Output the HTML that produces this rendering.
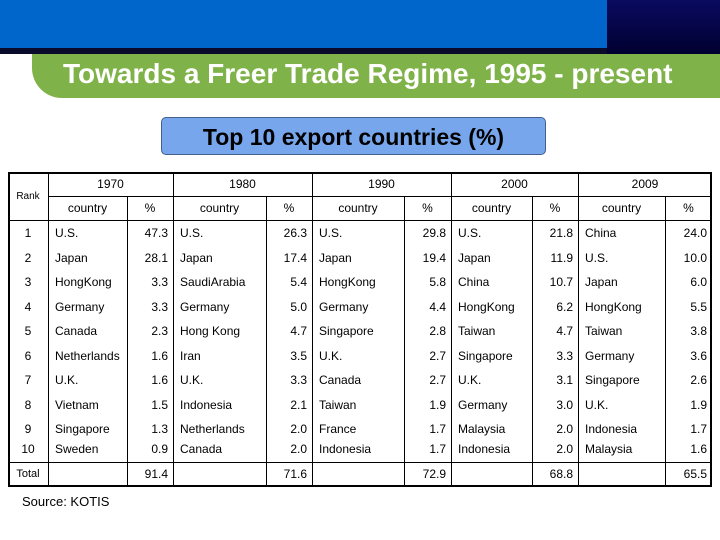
<!DOCTYPE html>
<html><head><meta charset="utf-8"><style>
body{margin:0;width:720px;height:540px;position:relative;background:#fff;overflow:hidden;font-family:"Liberation Sans",Arial,sans-serif}
div{position:absolute}
.t{font-size:12px;color:#000;white-space:nowrap;line-height:14px}
.v{background:#000;width:1px}
.h{background:#000;height:1px}
</style></head><body>
<div style="left:0;top:0;width:607px;height:48px;background:#0066cc"></div>
<div style="left:607px;top:0;width:113px;height:54px;background:linear-gradient(#0a0a60,#000030)"></div>
<div style="left:0;top:48px;width:607px;height:6px;background:#0a0a2a"></div>
<div style="left:32px;top:54px;width:700px;height:44px;background:#80b24a;border-bottom-left-radius:30px"></div>
<div style="left:63px;top:57px;font-size:28px;font-weight:bold;color:#fff;line-height:34px;white-space:nowrap">Towards a Freer Trade Regime, 1995 - present</div>
<div style="left:161px;top:117px;width:385px;height:38px;background:#77a6ec;border:1px solid #44608a;border-radius:5px;box-sizing:border-box;text-align:center;font-size:23px;font-weight:bold;line-height:38px;color:#000">Top 10 export countries (%)</div>
<div id="tbl" style="left:0;top:0;width:720px;height:540px"></div>
<div class="t" style="left:22px;top:495px;font-size:13px">Source: KOTIS</div>
<script>
const years=["1970","1980","1990","2000","2009"];
const countries=[
["U.S.","Japan","HongKong","Germany","Canada","Netherlands","U.K.","Vietnam","Singapore","Sweden"],
["U.S.","Japan","SaudiArabia","Germany","Hong Kong","Iran","U.K.","Indonesia","Netherlands","Canada"],
["U.S.","Japan","HongKong","Germany","Singapore","U.K.","Canada","Taiwan","France","Indonesia"],
["U.S.","Japan","China","HongKong","Taiwan","Singapore","U.K.","Germany","Malaysia","Indonesia"],
["China","U.S.","Japan","HongKong","Taiwan","Germany","Singapore","U.K.","Indonesia","Malaysia"]];
const shares=[
["47.3","28.1","3.3","3.3","2.3","1.6","1.6","1.5","1.3","0.9"],
["26.3","17.4","5.4","5.0","4.7","3.5","3.3","2.1","2.0","2.0"],
["29.8","19.4","5.8","4.4","2.8","2.7","2.7","1.9","1.7","1.7"],
["21.8","11.9","10.7","6.2","4.7","3.3","3.1","3.0","2.0","2.0"],
["24.0","10.0","6.0","5.5","3.8","3.6","2.6","1.9","1.7","1.6"]];
const totals=["91.4","71.6","72.9","68.8","65.5"];
const T=document.getElementById('tbl');
const gx=[48,173,312,451,578,712], mx=[127,266,404,532,665];
function add(cls,css,txt,name){const d=document.createElement('div');d.className=cls;d.style.cssText=css;if(txt!==undefined)d.textContent=txt;


T.appendChild(d);return d;}
add('','left:8px;top:172px;width:704px;height:315px;border:2px solid #000;box-sizing:border-box',undefined,'table-border');
gx.slice(0,5).forEach(x=>add('v',`left:${x}px;top:172px;height:315px`,undefined,'column-line'));
mx.forEach(x=>add('v',`left:${x}px;top:196px;height:291px`,undefined,'column-line'));
add('h','left:48px;top:196px;width:664px',undefined,'row-line');
add('h','left:8px;top:220px;width:704px',undefined,'row-line');
add('h','left:8px;top:462px;width:704px',undefined,'row-line');
add('t','left:10px;top:190px;width:36px;text-align:center;font-size:10px','Rank','rank-header');
add('t','left:8px;top:467px;width:40px;text-align:center;font-size:11px','Total','total-label');
const rowY=i=>i<9?226+24.5*i:442;
years.forEach((y,k)=>{
 add('t',`left:${gx[k]}px;top:177px;width:${gx[k+1]-gx[k]}px;text-align:center`,y,'year-header');
 add('t',`left:${gx[k]}px;top:201px;width:${mx[k]-gx[k]}px;text-align:center`,'country','country-header');
 add('t',`left:${mx[k]}px;top:201px;width:${gx[k+1]-mx[k]}px;text-align:center`,'%','percent-header');
 countries[k].forEach((c,i)=>{
  add('t',`left:${gx[k]+7}px;top:${rowY(i)}px`,c,'country-cell');
  add('t',`left:${mx[k]}px;top:${rowY(i)}px;width:${gx[k+1]-mx[k]-5}px;text-align:right`,shares[k][i],'share-cell');
 });
 add('t',`left:${mx[k]}px;top:467px;width:${gx[k+1]-mx[k]-5}px;text-align:right`,totals[k],'total-cell');
});
for(let i=0;i<10;i++)add('t',`left:8px;top:${rowY(i)}px;width:40px;text-align:center`,String(i+1),'rank-cell');
</script>
</body></html>
